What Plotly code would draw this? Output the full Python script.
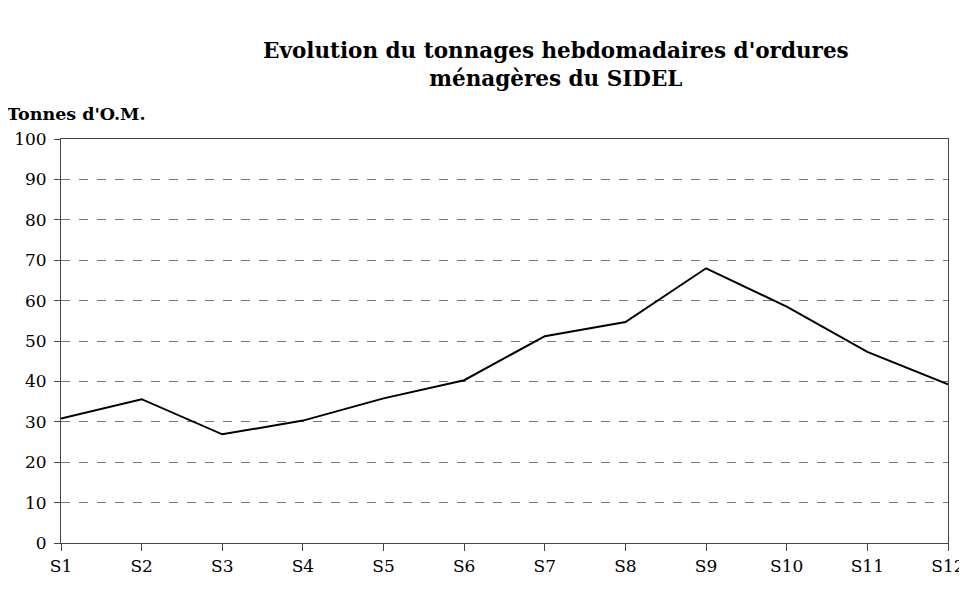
import plotly.graph_objects as go

weeks = ["S1", "S2", "S3", "S4", "S5", "S6", "S7", "S8", "S9", "S10", "S11", "S12"]
tonnes = [30.8, 35.6, 26.9, 30.3, 35.8, 40.3, 51.2, 54.7, 68.0, 58.5, 47.3, 39.3]
y_ticks = [0, 10, 20, 30, 40, 50, 60, 70, 80, 90, 100]

FONT = "DejaVu Serif"

fig = go.Figure()
fig.add_trace(go.Scatter(
    x=list(range(len(weeks))), y=tonnes, mode="lines",
    line=dict(color="black", width=2), showlegend=False, hoverinfo="skip",
))

fig.update_layout(
    width=959, height=581,
    margin=dict(l=53, r=19, t=131, b=46, autoexpand=False),
    paper_bgcolor="white", plot_bgcolor="white",
    font=dict(family=FONT, color="black", size=17),
    xaxis=dict(
        range=[0, len(weeks) - 1], tickmode="array",
        tickvals=list(range(len(weeks))), ticktext=weeks,
        showgrid=False, zeroline=False, automargin=False,
        showline=True, linecolor="#444", linewidth=1, mirror=True,
        ticks="outside", ticklen=7, tickcolor="#444",
        tickfont=dict(family=FONT, size=17), ticklabelstandoff=1,
    ),
    yaxis=dict(
        range=[0, 100], tickmode="array", tickvals=y_ticks,
        showgrid=True, gridcolor="#777", griddash="dash", gridwidth=1,
        zeroline=False, automargin=False,
        showline=True, linecolor="#444", linewidth=1, mirror=True,
        ticks="outside", ticklen=6, tickcolor="#444",
        tickfont=dict(family=FONT, size=17), ticklabelstandoff=4,
    ),
    annotations=[
        dict(text="<b>Evolution du tonnages hebdomadaires d'ordures</b><br><b>ménagères du SIDEL</b>",
             xref="paper", yref="paper", x=(556 - 61) / 887, y=1,
             xanchor="center", yanchor="bottom", yshift=46,
             showarrow=False, align="center",
             font=dict(family=FONT, size=21.5, color="black")),
        dict(text="<b>Tonnes d'O.M.</b>", xref="paper", yref="paper",
             x=-56 / 887, y=1, xanchor="left", yanchor="bottom", yshift=13,
             showarrow=False, font=dict(family=FONT, size=17.5, color="black")),
    ],
)

fig.write_html("out.html")
